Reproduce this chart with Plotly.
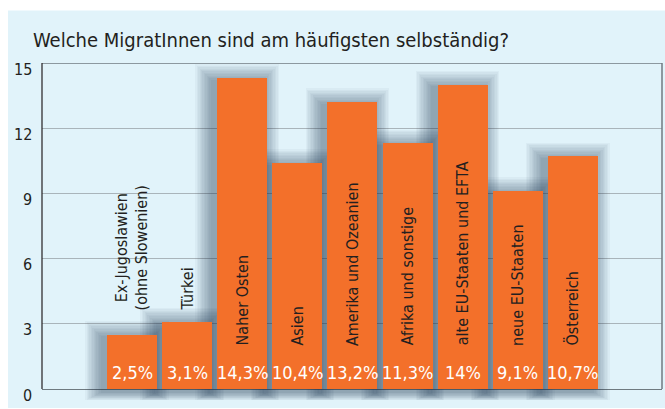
import plotly.graph_objects as go

# ---- data ----
categories = ["Ex-Jugoslawien<br>(ohne Slowenien)", "Türkei", "Naher Osten", "Asien",
              "Amerika und Ozeanien", "Afrika und sonstige", "alte EU-Staaten und EFTA",
              "neue EU-Staaten", "Österreich"]
values = [2.5, 3.1, 14.3, 10.4, 13.2, 11.3, 14.0, 9.1, 10.7]
y_ticks = [0, 3, 6, 9, 12, 15]
title_text = "Welche MigratInnen sind am häufigsten selbständig?"

# ---- style ----
FONT = "'Liberation Sans Narrow', 'DejaVu Sans Condensed', 'Roboto Condensed', 'Arial Narrow', sans-serif"
BG = "#e1f3fa"
ORANGE = "#f3702a"
DARK = "#231f20"
GRID = "#a9b4ba"
BORDER = "#6f7a80"

W, H = 665, 409
L, R, T, B = 42, 3, 63, 3
Y0_PX, Y15_PX = 389, 63
plot_w = W - L - R
plot_h = H - T - B
ppu = (Y0_PX - Y15_PX) / 15.0          # px per y unit
y_max = 15
y_min = -(H - B - Y0_PX) / ppu
cat_px = 55.1                            # px per category
x_lo = -90 / cat_px
x_hi = x_lo + plot_w / cat_px
bar_w = 50 / cat_px

fig = go.Figure()

# soft drop shadow made of layered translucent bars
n_layers = 12
for k in range(1, n_layers + 1):
    e = 1.4 * k
    w = bar_w + 2 * e / cat_px
    dx = -5 / cat_px
    top_ext = (e - 3) / ppu
    base = -(e * 0.5 + 3) / ppu
    fig.add_trace(go.Bar(
        x=categories,
        y=[v + top_ext - base for v in values],
        base=[base] * len(values),
        width=w, offset=-w / 2 + dx,
        marker=dict(color="rgba(30,60,80,0.04)", line=dict(width=0)),
        hoverinfo="skip", showlegend=False,
    ))

fig.add_trace(go.Bar(
    x=categories, y=values, width=bar_w,
    marker=dict(color=ORANGE, line=dict(width=0)),
    showlegend=False,
))

annotations = []
for c, v in zip(categories, values):
    pct = f"{v:g}".replace(".", ",") + "%"
    annotations.append(dict(
        x=c, y=0.78, xref="x", yref="y", text=pct, showarrow=False,
        font=dict(family=FONT, size=18, color="white"),
        xanchor="center", yanchor="middle",
    ))
    inside = v >= 4
    annotations.append(dict(
        x=c, y=1.9 if inside else 3.5, xref="x", yref="y", text=c, showarrow=False,
        textangle=-90, font=dict(family=FONT, size=16, color=DARK),
        xanchor="center", yanchor="bottom",
    ))

# y tick labels (sit just below their grid lines)
for t in y_ticks:
    annotations.append(dict(
        x=0, y=t, xref="paper", yref="y", text=str(t), showarrow=False,
        font=dict(family=FONT, size=16, color=DARK),
        xanchor="right", yanchor="middle", xshift=-8, yshift=-6,
    ))

def px_x(p):
    return (p - L) / plot_w

def px_y(p):
    return (H - B - p) / plot_h

shapes = [
    # white strips around the light-blue panel
    dict(type="rect", xref="paper", yref="paper", x0=px_x(0), x1=px_x(W), y0=px_y(10.5), y1=px_y(0),
         fillcolor="white", line=dict(width=0), layer="above"),
    dict(type="rect", xref="paper", yref="paper", x0=px_x(0), x1=px_x(8), y0=px_y(H), y1=px_y(0),
         fillcolor="white", line=dict(width=0), layer="above"),
    dict(type="rect", xref="paper", yref="paper", x0=px_x(0), x1=px_x(W), y0=px_y(H), y1=px_y(408),
         fillcolor="white", line=dict(width=0), layer="above"),
    # frame
    dict(type="line", xref="paper", yref="y", x0=0, x1=1, y0=15, y1=15,
         line=dict(color=BORDER, width=1.5), layer="above"),
    dict(type="line", xref="paper", yref="y", x0=1, x1=1, y0=0, y1=15,
         line=dict(color=BORDER, width=1.5), layer="above"),
    dict(type="line", xref="paper", yref="y", x0=0, x1=0, y0=0, y1=15,
         line=dict(color=DARK, width=1.2), layer="above"),
]

fig.update_layout(
    width=W, height=H,
    margin=dict(l=L, r=R, t=T, b=B, pad=0),
    paper_bgcolor=BG, plot_bgcolor=BG,
    barmode="overlay", bargap=0,
    title=dict(text=title_text, x=33 / W, xref="container", xanchor="left",
               y=1 - 40 / H, yref="container", yanchor="middle",
               font=dict(family=FONT, size=20, color=DARK)),
    xaxis=dict(type="category", range=[x_lo, x_hi], showticklabels=False,
               showgrid=False, zeroline=False, showline=False, ticks=""),
    yaxis=dict(range=[y_min, y_max], tickvals=y_ticks, showticklabels=False,
               showgrid=True, gridcolor=GRID, gridwidth=1,
               zeroline=True, zerolinecolor=BORDER, zerolinewidth=1,
               showline=False, ticks=""),
    annotations=annotations, shapes=shapes,
)

fig.write_html("out.html")
